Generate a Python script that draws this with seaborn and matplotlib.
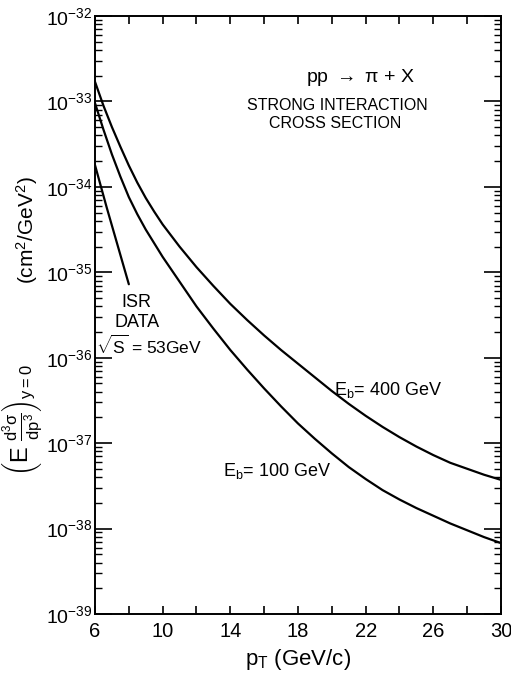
import numpy as np
import pandas as pd
import matplotlib
matplotlib.use("Agg")
import matplotlib.pyplot as plt
import matplotlib.ticker as mticker
import seaborn as sns

# ---- data (log10 of cross section in cm^2/GeV^2) ----
pt_400 = [6.0, 6.5, 7.0, 7.5, 8.0, 8.5, 9.0, 9.5, 10.0, 11.0, 12.0, 13.0, 14.0, 15.0, 16.0, 17.0,
          18.0, 19.0, 20.0, 21.0, 22.0, 23.0, 24.0, 25.0, 26.0, 27.0, 28.0, 29.0, 30.0]
log_400 = [-32.77, -33.05, -33.30, -33.53, -33.75, -33.95, -34.13, -34.29, -34.44, -34.70, -34.94,
           -35.16, -35.37, -35.56, -35.74, -35.91, -36.07, -36.23, -36.39, -36.54, -36.68, -36.81,
           -36.93, -37.04, -37.14, -37.23, -37.30, -37.37, -37.43]

pt_100 = [6.0, 6.5, 7.0, 7.5, 8.0, 8.5, 9.0, 9.5, 10.0, 11.0, 12.0, 13.0, 14.0, 15.0, 16.0, 17.0,
          18.0, 19.0, 20.0, 21.0, 22.0, 23.0, 24.0, 25.0, 26.0, 27.0, 28.0, 29.0, 30.0]
log_100 = [-33.02, -33.33, -33.62, -33.88, -34.12, -34.32, -34.50, -34.66, -34.82, -35.11, -35.40,
           -35.66, -35.91, -36.14, -36.36, -36.57, -36.77, -36.95, -37.12, -37.28, -37.42, -37.55,
           -37.66, -37.76, -37.85, -37.94, -38.02, -38.10, -38.17]

pt_isr = [6.0, 6.69, 8.0]
log_isr = [-33.745, -34.24, -35.14]

series_names = ["E_b=400 GeV", "E_b=100 GeV", "ISR"]

rows = []
for name, xs, ys in zip(series_names, [pt_400, pt_100, pt_isr], [log_400, log_100, log_isr]):
    for x, y in zip(xs, ys):
        rows.append({"series": name, "pt": x, "sigma": 10.0 ** y})
df = pd.DataFrame(rows)

sns.set_style("ticks")
FONT = ["Liberation Sans", "DejaVu Sans"]
plt.rcParams["font.family"] = FONT
plt.rcParams["mathtext.fontset"] = "custom"
plt.rcParams["mathtext.rm"] = "Liberation Sans"
plt.rcParams["mathtext.it"] = "Liberation Sans"
plt.rcParams["mathtext.bf"] = "Liberation Sans:bold"
for k in ["text.color", "axes.labelcolor", "xtick.color", "ytick.color", "axes.edgecolor"]:
    plt.rcParams[k] = "black"

fig = plt.figure(figsize=(5.11, 6.73), dpi=100)
ax = fig.add_axes([95 / 511, 1 - 614 / 673, (501 - 95) / 511, (614 - 16) / 673])

for name in series_names:
    sub = df[df["series"] == name]
    sns.lineplot(data=sub, x="pt", y="sigma", ax=ax, color="black", lw=1.6,
                 estimator=None, sort=True, legend=False)

ax.set_yscale("log")
ax.set_xlim(6, 30)
ax.set_ylim(1e-39, 1e-32)

ax.xaxis.set_major_locator(mticker.FixedLocator([6, 10, 14, 18, 22, 26, 30]))
ax.xaxis.set_minor_locator(mticker.FixedLocator([8, 12, 16, 20, 24, 28]))
ax.yaxis.set_major_locator(mticker.FixedLocator([10.0 ** e for e in range(-39, -31)]))
ax.yaxis.set_minor_locator(mticker.LogLocator(base=10, subs=np.arange(2, 10), numticks=20))
ax.yaxis.set_minor_formatter(mticker.NullFormatter())
ax.yaxis.set_major_formatter(mticker.FuncFormatter(lambda v, p: r"$10^{%d}$" % int(round(np.log10(v)))))

ax.tick_params(axis="both", which="both", direction="in", top=True, right=True, color="black")
ax.tick_params(axis="x", which="both", length=6, width=1.2, labelsize=14.5, pad=6)
ax.tick_params(axis="y", which="major", length=12, width=1.2, labelsize=14, pad=2)
ax.tick_params(axis="y", which="minor", length=5, width=1.0)
for s in ax.spines.values():
    s.set_linewidth(1.4)
    s.set_color("black")

ax.set_xlabel(r"p$_{\rm T}$ (GeV/c)", fontsize=16, labelpad=4)
ax.set_ylabel("")

# y label pieces
fig.text(27 / 511, 1 - 230 / 673, r"(cm$^2$/GeV$^2$)", rotation=90, ha="center", va="center", fontsize=15)
fig.text(23 / 511, 1 - 420 / 673, r"$\left(\mathrm{E}\ \frac{\mathrm{d}^3\sigma}{\mathrm{dp}^3}\right)_{y=0}$",
         rotation=90, ha="center", va="center", fontsize=17)

def ftext(px, py, s, **kw):
    fig.text(px / 511, 1 - py / 673, s, ha="center", va="center", **kw)

ftext(360, 78, r"pp $\rightarrow$ π + X", fontsize=14)
ftext(337, 105, "STRONG INTERACTION", fontsize=11.5)
ftext(335, 124, "CROSS SECTION", fontsize=11.5)
ftext(136, 303, "ISR", fontsize=13)
ftext(137, 322, "DATA", fontsize=13)
ftext(149, 345, r"$\sqrt{\mathrm{S}}$ = 53GeV", fontsize=12.5)
ftext(388, 390, r"E$_{b}$= 400 GeV", fontsize=13)
ftext(277, 471, r"E$_{b}$= 100 GeV", fontsize=13)

fig.savefig("out.png", dpi=100)
